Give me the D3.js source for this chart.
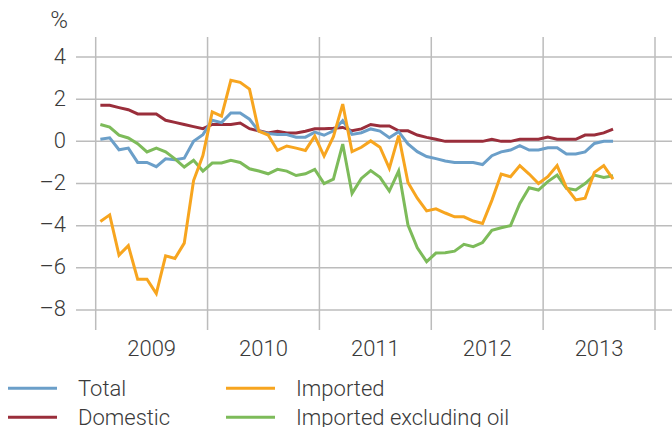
<!DOCTYPE html>
<html><head><meta charset="utf-8">
<script src="https://cdn.jsdelivr.net/npm/d3@7"></script>
<style>
html,body{margin:0;padding:0;background:#fff;}
svg text{font-family:Roboto, "Liberation Sans", sans-serif;font-weight:300;fill:#3a3a3a;}
</style></head>
<body><svg id="c" width="672" height="427"></svg>
<script>
const startYear = 2009;
const yearLabels = ["2009","2010","2011","2012","2013"];
const yTicks = [4, 2, 0, -2, -4, -6, -8];
const seriesNames = ["Total","Domestic","Imported","Imported excluding oil"];
const seriesColors = ["#6b9fc9","#9a2e3b","#f7a51f","#7dbb5a"];

const total = [
  0.1, 0.17, -0.4, -0.32, -1.0, -1.0, -1.2, -0.83, -0.87, -0.8, 0.0, 0.32,
  1.0, 0.89, 1.35, 1.35, 1.05, 0.48, 0.37, 0.32, 0.32, 0.2, 0.2, 0.44,
  0.29, 0.5, 0.98, 0.33, 0.41, 0.59, 0.49, 0.17, 0.46, -0.12, -0.49, -0.72,
  -0.82, -0.93, -1.0, -1.0, -1.0, -1.1, -0.68, -0.5, -0.41, -0.2, -0.41, -0.41,
  -0.3, -0.3, -0.6, -0.6, -0.5, -0.1, 0.0, 0.0
];
const domestic = [
  1.71, 1.71, 1.6, 1.5, 1.3, 1.3, 1.3, 1.0, 0.9, 0.8, 0.7, 0.6,
  0.8, 0.8, 0.8, 0.87, 0.6, 0.5, 0.4, 0.48, 0.4, 0.4, 0.48, 0.6,
  0.6, 0.62, 0.66, 0.5, 0.59, 0.8, 0.73, 0.73, 0.5, 0.5, 0.3, 0.19,
  0.1, 0.0, 0.0, 0.0, 0.0, 0.0, 0.1, 0.0, 0.0, 0.1, 0.1, 0.1,
  0.2, 0.1, 0.1, 0.1, 0.3, 0.3, 0.4, 0.58
];
const imported = [
  -3.8, -3.49, -5.4, -4.95, -6.54, -6.54, -7.22, -5.43, -5.56, -4.83, -1.86, -0.67,
  1.4, 1.2, 2.9, 2.8, 2.48, 0.48, 0.3, -0.43, -0.22, -0.32, -0.43, 0.25,
  -0.7, 0.22, 1.77, -0.49, -0.28, 0.02, -0.28, -1.28, 0.27, -1.95, -2.7, -3.3,
  -3.2, -3.4, -3.58, -3.58, -3.78, -3.9, -2.8, -1.55, -1.68, -1.15, -1.55, -2.0,
  -1.68, -1.15, -2.2, -2.78, -2.7, -1.47, -1.15, -1.79
];
const importedExOil = [
  0.8, 0.68, 0.29, 0.16, -0.11, -0.5, -0.32, -0.5, -0.83, -1.22, -0.9, -1.41,
  -1.03, -1.03, -0.9, -1.0, -1.3, -1.41, -1.54, -1.33, -1.41, -1.62, -1.54, -1.33,
  -2.0, -1.79, -0.13, -2.47, -1.76, -1.39, -1.71, -2.36, -1.41, -3.97, -5.05, -5.71,
  -5.3, -5.29, -5.21, -4.89, -5.0, -4.8, -4.22, -4.1, -4.0, -2.95, -2.2, -2.31,
  -1.91, -1.6, -2.23, -2.31, -2.0, -1.6, -1.71, -1.63
];
const seriesData = [total, domestic, imported, importedExOil];

const svg = d3.select("#c");
const x = d3.scaleLinear().domain([2009, 2014]).range([95.7, 655]);
const y = d3.scaleLinear().domain([-9, 5]).range([331, 36]);
const gridColor = "#bcbcbc";
const fs = "22px";

// horizontal grid
svg.append("g").selectAll("line").data(yTicks).join("line")
  .attr("x1", 76).attr("x2", 672)
  .attr("y1", d => y(d)).attr("y2", d => y(d))
  .attr("stroke", gridColor).attr("stroke-width", 1.5);
// vertical grid
const yearBounds = d3.range(2009, 2015);
svg.append("g").selectAll("line").data(yearBounds).join("line")
  .attr("x1", d => x(d)).attr("x2", d => x(d))
  .attr("y1", 37).attr("y2", 330)
  .attr("stroke", gridColor).attr("stroke-width", 1.5);

// y tick labels
svg.append("g").selectAll("text").data(yTicks).join("text")
  .attr("x", 66).attr("y", d => y(d) + 6.5)
  .attr("text-anchor", "end")
  .style("font-size", fs)
  .text(d => d < 0 ? "\u2013" + Math.abs(d) : String(d));
svg.append("text").attr("x", 68).attr("y", 28).attr("text-anchor", "end")
  .style("font-size", "24px").text("%");

// x labels
svg.append("g").selectAll("text").data(yearLabels).join("text")
  .attr("x", (d, i) => x(startYear + i + 0.5)).attr("y", 356)
  .attr("text-anchor", "middle").style("font-size", fs)
  .text(d => d);

// lines
const line = d3.line()
  .x((d, i) => x(startYear + (i + 0.5) / 12))
  .y(d => y(d));
const drawOrder = [1, 0, 3, 2];
drawOrder.forEach(k => {
  svg.append("path").datum(seriesData[k])
    .attr("d", line)
    .attr("fill", "none")
    .attr("stroke", seriesColors[k])
    .attr("stroke-width", 3)
    .attr("stroke-linejoin", "miter");
});

// legend
const legPos = [[8, 388.3, 78], [8, 417.2, 78], [226, 388.3, 296], [226, 417.2, 296]];
seriesNames.forEach((n, k) => {
  const [lx, ly, tx] = legPos[k];
  svg.append("line").attr("x1", lx).attr("x2", lx + 49)
    .attr("y1", ly).attr("y2", ly)
    .attr("stroke", seriesColors[k]).attr("stroke-width", 3);
  svg.append("text").attr("x", tx).attr("y", ly + 7.3)
    .style("font-size", fs).text(n);
});
</script></body></html>
